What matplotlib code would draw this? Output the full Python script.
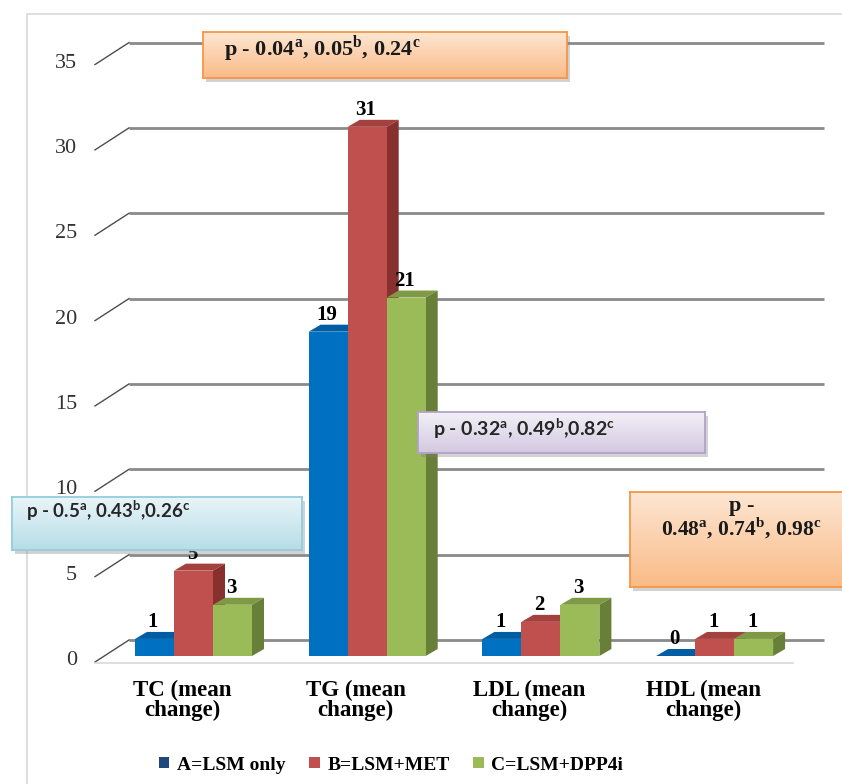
import numpy as np
import matplotlib
matplotlib.use("Agg")
import matplotlib.pyplot as plt
from matplotlib.patches import Polygon, Rectangle, Patch
from matplotlib.colors import LinearSegmentedColormap
from matplotlib.transforms import ScaledTranslation

# ---- data -------------------------------------------------------------
categories = ["TC (mean\nchange)", "TG (mean\nchange)",
              "LDL (mean\nchange)", "HDL (mean\nchange)"]
series_names = ["A=LSM only", "B=LSM+MET", "C=LSM+DPP4i"]
lsm_only = [1, 19, 1, 0]
lsm_met = [5, 31, 2, 1]
lsm_dpp4i = [3, 21, 3, 1]
y_ticks = [0, 5, 10, 15, 20, 25, 30, 35]

p_tc = r"p - 0.5$^{\mathregular{a}}$, 0.43$^{\mathregular{b}}$,0.26$^{\mathregular{c}}$"
p_tg = r"p - 0.04$^{\mathregular{a}}$, 0.05$^{\mathregular{b}}$, 0.24$^{\mathregular{c}}$"
p_ldl = r"p - 0.32$^{\mathregular{a}}$, 0.49$^{\mathregular{b}}$,0.82$^{\mathregular{c}}$"
p_hdl_head = "p -"
p_hdl = r"0.48$^{\mathregular{a}}$, 0.74$^{\mathregular{b}}$, 0.98$^{\mathregular{c}}$"

# ---- styling ----------------------------------------------------------
SERIF = "Liberation Serif"
SANS = "Lato"
face_colors = [("#0070C0", "#005DA3", "#004A85"),   # front, top, side
               ("#C0504D", "#A3413E", "#87302E"),
               ("#9BBB59", "#7F9A45", "#687F38")]
legend_colors = ["#1F497D", "#C0504D", "#9BBB59"]

W, H = 842, 784
fig = plt.figure(figsize=(W / 100, H / 100), dpi=100)
fig.patch.set_facecolor("white")


def fx(x):
    return x / W


def fy(y):
    return 1 - y / H


def frect(x0, y0, x1, y1):
    return [fx(x0), fy(y1), (x1 - x0) / W, (y1 - y0) / H]


# outer chart frame
fig.add_artist(Rectangle((fx(27), fy(900)), (900 - 27) / W, (900 - 14) / H,
                         transform=fig.transFigure, fill=False,
                         edgecolor="#d9d9d9", lw=1.2, zorder=0))

# main axes: front plane of the bars
AX_L, AX_R, AX_B = 106.65, 801.45, 656.0
PX_PER_UNIT = 17.07
AX_T = AX_B - 35 * PX_PER_UNIT
ax = fig.add_axes(frect(AX_L, AX_T, AX_R, AX_B), zorder=1)
ax.set_xlim(-0.5, 3.5)
ax.set_ylim(0, 35)
ax.axis("off")

PX_X = 4 / (AX_R - AX_L)
PX_Y = 35 / (AX_B - AX_T)


def px_to_x(px):
    return -0.5 + (px - AX_L) * PX_X


# back wall gridlines and left-wall diagonals
x_front_left = px_to_x(95)
x_back_left = px_to_x(129)
x_back_right = px_to_x(824)
back_shift = 16 * PX_Y
front_shift = -6 * PX_Y
for v in y_ticks:
    ax.plot([x_back_left, x_back_right], [v + back_shift] * 2,
            color="#8a8a8a", lw=2.0, solid_capstyle="butt",
            zorder=1, clip_on=False)
    ax.plot([x_front_left, x_back_left], [v + front_shift, v + back_shift],
            color="#4d4d4d", lw=1.0, zorder=1, clip_on=False)

# floor front edge
floor_y = -7 * PX_Y
ax.plot([px_to_x(95), px_to_x(793)], [floor_y, floor_y],
        color="#d9d9d9", lw=1.2, zorder=1, clip_on=False)

# y tick labels
for v in y_ticks:
    ax.text(-0.0427, v, str(v), transform=ax.get_yaxis_transform()
            + ScaledTranslation(0, -0.045, fig.dpi_scale_trans),
            ha="right", va="center", family=SERIF, fontsize=16,
            color="#333333", clip_on=False)

# 3D-looking bars
bw = 0.2245
dx, dy = 12 * PX_X, 7 * PX_Y
x = np.arange(len(categories))
for j, vals in enumerate([lsm_only, lsm_met, lsm_dpp4i]):
    front, top, side = face_colors[j]
    xs = x + (j - 1) * bw
    z = 3 + j
    for xi, v in zip(xs, vals):
        l, r = xi - bw / 2, xi + bw / 2
        ax.add_patch(Polygon([(l, v), (r, v), (r + dx, v + dy), (l + dx, v + dy)],
                             closed=True, facecolor=top, lw=0, zorder=z, clip_on=False))
        ax.add_patch(Polygon([(r, 0), (r + dx, dy), (r + dx, v + dy), (r, v)],
                             closed=True, facecolor=side, lw=0, zorder=z, clip_on=False))
    ax.bar(xs, vals, width=bw, color=front, linewidth=0, zorder=z)
    for xi, v in zip(xs, vals):
        ax.annotate(str(v), (xi, v), xytext=(-1.1, 12.0), textcoords="offset points",
                    ha="center", va="center", family=SERIF, weight="bold",
                    fontsize=15, color="black", zorder=10, annotation_clip=False)

# category labels
for xi, lab in zip(x, categories):
    ax.text(xi - 11.5 * PX_X, 0, lab,
            transform=ax.transData + ScaledTranslation(0, -0.235, fig.dpi_scale_trans),
            ha="center", va="top", multialignment="center", linespacing=0.95,
            family=SERIF, weight="bold", fontsize=16.5, color="black", clip_on=False)

# legend
handles = [Patch(facecolor=c, edgecolor="none") for c in legend_colors]
fig.legend(handles, series_names, loc="center", bbox_to_anchor=(fx(391), fy(765)),
           ncol=3, frameon=False, handlelength=0.55, handleheight=0.55,
           handletextpad=0.4, columnspacing=1.2,
           prop=dict(family=SERIF, weight="bold", size=14))


# p-value boxes
def make_box(x0, y0, x1, y1, c_top, c_bot, edge):
    fig.add_artist(Rectangle((fx(x0 + 3), fy(y1 + 4)), (x1 - x0) / W, (y1 - y0) / H,
                             transform=fig.transFigure, facecolor="#7f7f7f",
                             edgecolor="none", alpha=0.35, zorder=20))
    bax = fig.add_axes(frect(x0, y0, x1, y1), zorder=21)
    grad = np.linspace(0, 1, 64)[:, None]
    cmap = LinearSegmentedColormap.from_list("grad", [c_top, c_bot])
    bax.imshow(grad, aspect="auto", cmap=cmap, extent=[0, 1, 0, 1])
    bax.set_xlim(0, 1)
    bax.set_ylim(0, 1)
    bax.set_xticks([])
    bax.set_yticks([])
    for s in bax.spines.values():
        s.set_color(edge)
        s.set_linewidth(1.3)
    return bax


def box_text(x, y, s, ha, family, size, color):
    fig.text(fx(x), fy(y), s, ha=ha, va="baseline", family=family,
             weight="bold", fontsize=size, color=color, zorder=30)


make_box(203, 32, 567, 78, "#fde6d2", "#fabb87", "#f79646")
box_text(224, 56, p_tg, "left", SERIF, 16, "#1a1a1a")

make_box(12, 497, 302, 550, "#eaf5f8", "#b7dde8", "#93cddd")
box_text(26, 518, p_tc, "left", SANS, 13.5, "#262626")

make_box(418, 412, 705, 453, "#f3f0f7", "#d3c9e1", "#b3a2c7")
box_text(433, 436, p_ldl, "left", SANS, 14, "#262626")

make_box(630, 492, 852, 587, "#fde6d2", "#fabb87", "#f79646")
box_text(742, 511, p_hdl_head, "center", SERIF, 16, "#1a1a1a")
box_text(741, 536, p_hdl, "center", SERIF, 15.5, "#1a1a1a")

fig.savefig("out.png", dpi=100, facecolor="white")
